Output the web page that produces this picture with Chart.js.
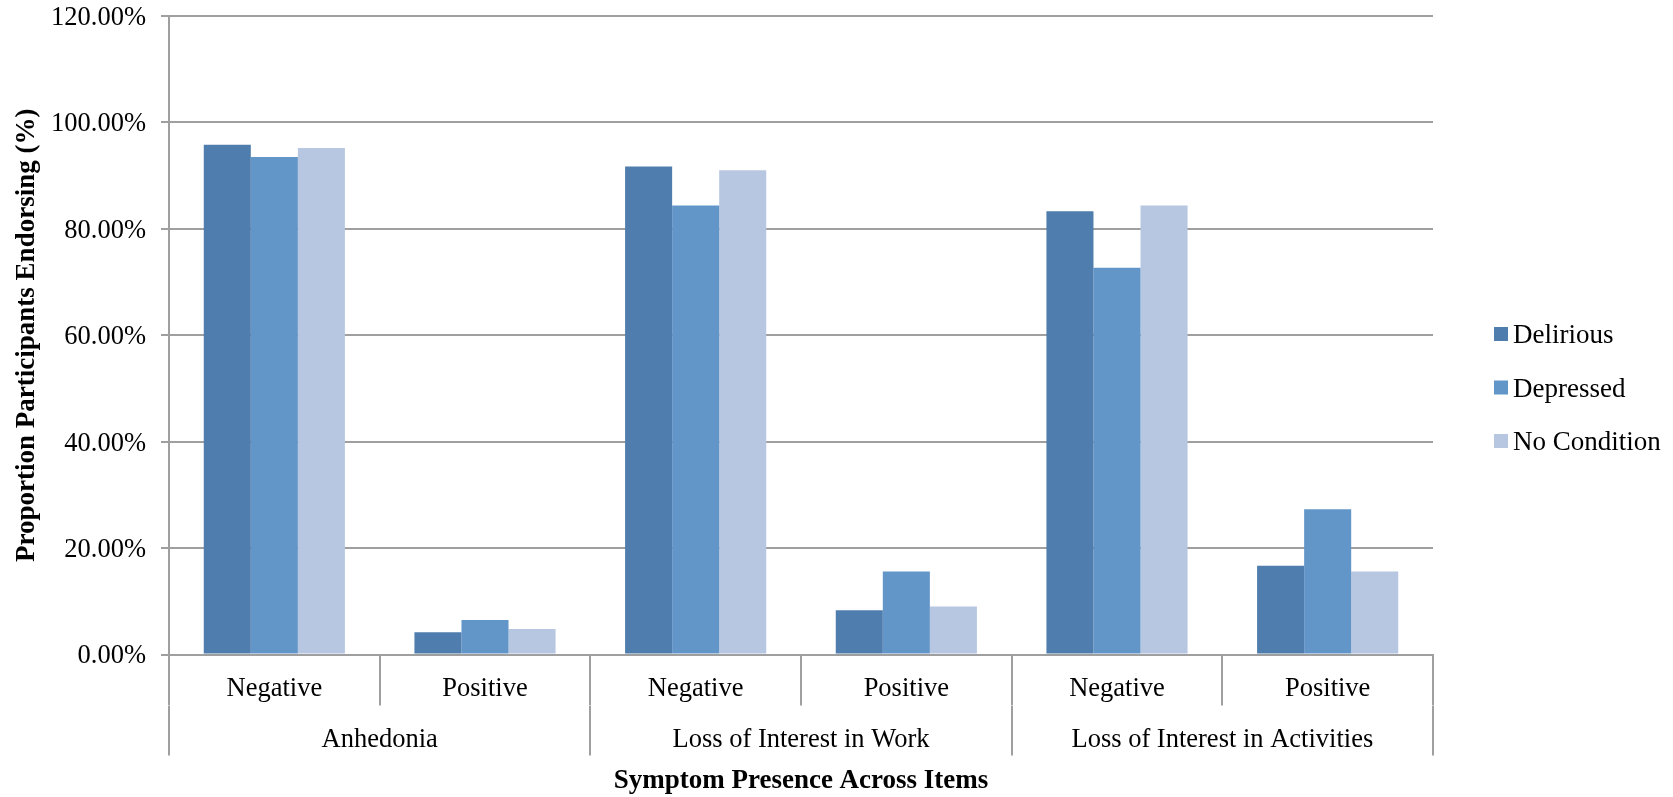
<!DOCTYPE html>
<html>
<head>
<meta charset="utf-8">
<title>Symptom Presence Across Items</title>
<script src="https://cdn.jsdelivr.net/npm/chart.js@4.4.0/dist/chart.umd.min.js"></script>
<style>
  html, body { margin: 0; padding: 0; background: #ffffff; }
  canvas { display: block; }
</style>
</head>
<body>
<canvas id="chart" width="1673" height="797"></canvas>
<script>
// Response level for each bar group, and the item each pair of groups belongs to
const responses = ['Negative', 'Positive', 'Negative', 'Positive', 'Negative', 'Positive'];
const items = ['Anhedonia', 'Loss of Interest in Work', 'Loss of Interest in Activities'];

// Percentage of participants endorsing, per group
const seriesNames = ['Delirious', 'Depressed', 'No Condition'];
const delirious   = [95.8, 4.2, 91.7, 8.3, 83.3, 16.7];
const depressed   = [93.5, 6.5, 84.4, 15.6, 72.7, 27.3];
const noCondition = [95.2, 4.8, 91.0, 9.0, 84.4, 15.6];

// Value axis range
const yMin = 0;
const yMax = 120;
const yStep = 20;

const seriesColors = ['#4F7DAD', '#6296C9', '#B8C7E1'];
const gridColor = '#9f9f9f';
const family = '"Liberation Serif", "Times New Roman", Times, serif';
const tickFont = { family: family, size: 26.5 };
const titleFont = { family: family, size: 27, weight: 'bold' };

// Legend drawn beside the plot from the dataset labels and colours
const sideLegend = {
  id: 'sideLegend',
  afterDraw(chart, args, opts) {
    const ctx = chart.ctx;
    ctx.save();
    ctx.font = opts.font;
    ctx.textBaseline = 'middle';
    ctx.textAlign = 'left';
    chart.data.datasets.forEach((ds, i) => {
      const cy = opts.firstRow + i * opts.rowGap;
      ctx.fillStyle = ds.backgroundColor;
      ctx.fillRect(opts.left, cy - opts.box / 2, opts.box, opts.box);
      ctx.fillStyle = '#000000';
      ctx.fillText(ds.label, opts.left + opts.box + opts.gap, cy + 2);
    });
    ctx.restore();
  }
};

const seriesValues = [delirious, depressed, noCondition];

new Chart(document.getElementById('chart'), {
  type: 'bar',
  data: {
    labels: responses,
    datasets: seriesNames.map((name, i) => ({
      label: name,
      data: seriesValues[i],
      backgroundColor: seriesColors[i],
      borderWidth: 0,
      categoryPercentage: 0.67,
      barPercentage: 1.0
    }))
  },
  options: {
    responsive: false,
    animation: false,
    layout: { padding: { top: 16, right: 240, bottom: 0, left: 0 } },
    plugins: {
      legend: { display: false },
      tooltip: { enabled: false },
      sideLegend: {
        left: 1494,
        firstRow: 334,
        rowGap: 53.5,
        box: 14,
        gap: 5,
        font: '27px ' + family
      }
    },
    scales: {
      x: {
        type: 'category',
        position: 'bottom',
        weight: 0,
        offset: true,
        grid: {
          display: true,
          offset: true,
          drawOnChartArea: false,
          drawTicks: true,
          tickLength: 51,
          color: gridColor,
          lineWidth: 2
        },
        border: { display: true, color: gridColor, width: 2 },
        ticks: {
          font: tickFont,
          color: '#000000',
          padding: -32,
          maxRotation: 0,
          autoSkip: false
        },
        afterFit(scale) { scale.height = 51; }
      },
      x2: {
        type: 'category',
        labels: items,
        position: 'bottom',
        weight: 1,
        offset: true,
        bounds: 'ticks',
        grid: {
          display: true,
          offset: true,
          drawOnChartArea: false,
          drawTicks: true,
          tickLength: 50,
          color: gridColor,
          lineWidth: 2
        },
        border: { display: false },
        ticks: {
          font: tickFont,
          color: '#000000',
          padding: -31,
          maxRotation: 0,
          autoSkip: false
        },
        title: {
          display: true,
          text: 'Symptom Presence Across Items',
          font: titleFont,
          color: '#000000',
          padding: { top: 0, bottom: 0 }
        },
        afterFit(scale) { scale.height = 91.5; }
      },
      y: {
        min: yMin,
        max: yMax,
        ticks: {
          stepSize: yStep,
          font: tickFont,
          color: '#000000',
          padding: 15,
          labelOffset: 2,
          callback: (v) => v.toFixed(2) + '%'
        },
        grid: {
          color: gridColor,
          lineWidth: 2,
          drawTicks: true,
          tickLength: 8
        },
        border: { display: true, color: gridColor, width: 2 },
        title: {
          display: true,
          text: 'Proportion Participants Endorsing (%)',
          font: titleFont,
          color: '#000000',
          padding: { top: 11, bottom: 0 }
        },
        afterFit(scale) {
          scale.width = 169;
          // labels only overhang the plot by half a line
          scale.paddingTop = 16;
          scale.paddingBottom = 16;
        }
      }
    }
  },
  plugins: [sideLegend]
});
</script>
</body>
</html>
